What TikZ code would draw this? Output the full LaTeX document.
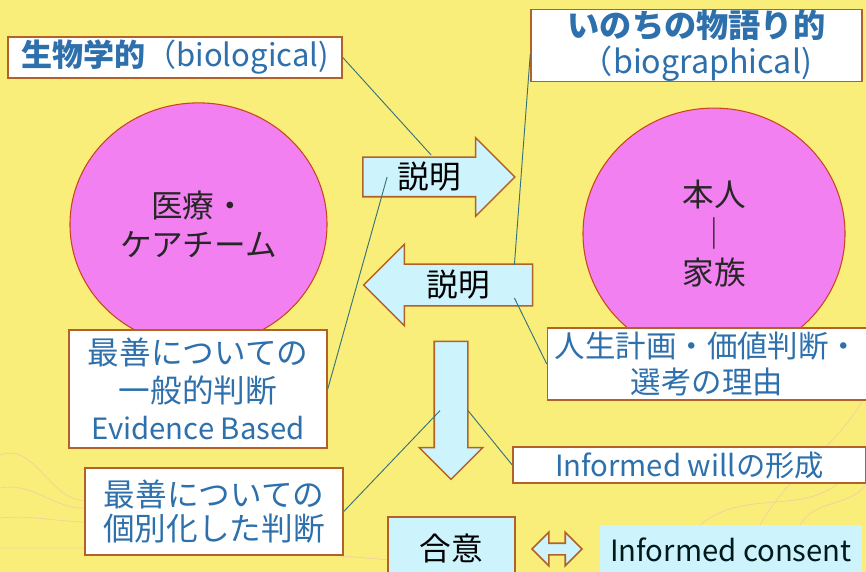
\documentclass[tikz,border=0pt]{standalone}
\usepackage{fontspec}
\setmainfont{Noto Sans CJK JP}
\usetikzlibrary{shapes.arrows, shapes.geometric, calc}
\definecolor{paper}{RGB}{250,238,122}
\definecolor{edge}{RGB}{178,98,40}
\definecolor{ink}{RGB}{45,112,172}
\definecolor{bubble}{RGB}{242,128,240}
\definecolor{skyfill}{RGB}{205,243,253}
\definecolor{leader}{RGB}{55,115,125}
\definecolor{streak}{RGB}{236,180,90}

\begin{document}
\begin{tikzpicture}[x=0.03cm, y=-0.03cm,
  every node/.style={font=\fontsize{27}{33}\selectfont},
  tag/.style={rectangle, draw=edge, fill=white, text=ink, align=center,
              inner sep=0pt, line width=1.3pt},
  party/.style={ellipse, draw=edge!70!red, fill=bubble, text=black!85,
                align=center, inner sep=0pt, line width=0.9pt},
  flow/.style={single arrow, draw=edge, fill=skyfill, line width=1.3pt,
               inner sep=0pt, single arrow head extend=#1},
  link/.style={leader, line width=0.8pt}
]
% background
\fill[paper] (0,0) rectangle (866,572);
\useasboundingbox (0,0) rectangle (866,572);
\draw[streak!60, line width=0.7pt] (0,455) to[out=20,in=190] (90,500);
\draw[streak!60, line width=0.7pt] (0,488) to[out=10,in=185] (90,508);
\draw[streak!60, line width=0.7pt] (0,518) to[out=5,in=180] (90,522);
\draw[streak!60, line width=0.7pt] (0,548) to[out=0,in=175] (390,560);
\draw[streak!60, line width=0.7pt] (866,395) to[out=240,in=60] (760,525);
\draw[streak!60, line width=0.7pt] (850,470) to[out=235,in=40] (700,525);
\draw[streak!60, line width=0.7pt] (866,485) to[out=230,in=60] (800,525);

% the two parties
\node[party, minimum width=7.71cm, minimum height=7.29cm] (team) at (198.5,224.4)
  {医療・\\ケアチーム};
\node[party, minimum width=7.86cm, minimum height=7.53cm] (self) at (714,233.6)
  {本人\\｜\\家族};

% label boxes
\node[tag, minimum width=10.02cm, minimum height=1.23cm,
      font=\fontsize{26.5}{32}\selectfont] (bio) at (175,57.5)
  {{\bfseries 生物学的}（biological)};
\node[tag, minimum width=9.93cm, minimum height=2.13cm,
      font=\fontsize{27.5}{31}\selectfont] (bgr) at (696.5,45.5)
  {{\bfseries いのちの物語り的}\\（biographical)};
\node[tag, minimum width=7.74cm, minimum height=3.54cm,
      font=\fontsize{27}{32}\selectfont] (ev) at (198,389)
  {最善についての\\一般的判断\\{\fontsize{25}{32}\selectfont Evidence Based}};
\node[tag, minimum width=7.74cm, minimum height=2.61cm,
      font=\fontsize{27}{28.5}\selectfont] (ind) at (214,511.5)
  {最善についての\\個別化した判断};
\node[tag, minimum width=9.57cm, minimum height=2.16cm,
      font=\fontsize{26}{30}\selectfont] (life) at (707,364)
  {人生計画・価値判断・\\選考の理由};
\node[tag, minimum width=10.59cm, minimum height=1.08cm,
      font=\fontsize{25}{30}\selectfont] (will) at (689.5,465)
  {Informed willの形成};

% arrows
\node[flow=0.585cm, minimum height=4.56cm, minimum width=2.31cm,
      text height=0.93cm, text depth=0.21cm] (arrR) at (429,177)
  {説明\hspace{0.72cm}};
\node[flow=0.6cm, shape border rotate=180, minimum height=5.07cm,
      minimum width=2.4cm, text height=0.96cm, text depth=0.24cm] (arrL) at (458.5,285)
  {説明};
\node[flow=0.45cm, rotate=-90, minimum height=4.14cm, minimum width=1.86cm,
      text height=0.96cm, text depth=0cm] (arrD) at (451,402) {};

% agreement
\node[rectangle, draw=edge, fill=skyfill, line width=1.3pt, inner sep=0pt,
      minimum width=3.81cm, minimum height=1.86cm] (agree) at (451.5,548) {合意};
\node[double arrow, draw=edge, fill=skyfill, line width=1.3pt, inner sep=0pt,
      double arrow head extend=0.33cm, minimum height=1.5cm, minimum width=0.96cm,
      text height=0.3cm, text depth=0cm] (both) at (557,549) {};
\node[rectangle, fill=skyfill, text=black!80!teal, inner sep=0pt,
      minimum width=7.86cm, minimum height=1.5cm,
      font=\fontsize{25}{30}\selectfont] (consent) at (731,550) {Informed consent};

% leader lines
\draw[link] (bio.east) -- ($(arrR.tail)+(69,-22)$);
\draw[link] ($(bgr.west)+(0,9)$) -- ($(arrL.tail)+(-19,-20)$);
\draw[link] (ev.east) -- ($(arrR.tail)+(25,0)$);
\draw[link] ($(arrL.tail)+(-19,13)$) -- (life.west);
\draw[link] (ind.east) -- ($(arrD.tail)+(-11,70)$);
\draw[link] ($(arrD.tail)+(17,70)$) -- (will.west);
\end{tikzpicture}
\end{document}
